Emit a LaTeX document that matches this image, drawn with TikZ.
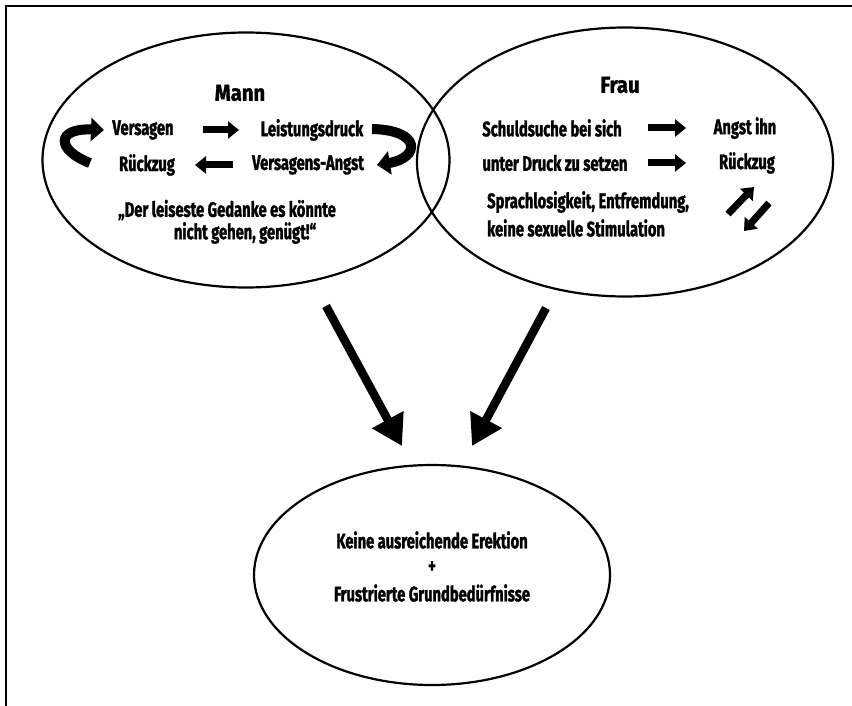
\documentclass[tikz,border=0pt]{standalone}
\usepackage{fontspec}
\setmainfont{Fira Sans}[FakeStretch=0.7,BoldFeatures={FakeBold=1.5}]
\newfontfamily\titlefont{Fira Sans}[FakeStretch=0.88,BoldFeatures={FakeBold=1.5}]
\usetikzlibrary{shapes.geometric,arrows.meta}
\begin{document}
\begin{tikzpicture}[x=1pt,y=-1pt,
  txt/.style={font=\bfseries\fontsize{21}{24}\selectfont, inner sep=0pt, anchor=center},
  ttl/.style={font=\titlefont\bfseries\fontsize{23}{26}\selectfont, inner sep=0pt, anchor=center},
  oval/.style={draw, line width=2.2pt, ellipse, inner sep=0pt},
  smallarr/.style={line width=7pt, -{Triangle[length=11pt,width=17pt]}},
  curvarr/.style={line width=10pt, -{Triangle[length=13pt,width=23pt]}},
  bigarr/.style={line width=8.5pt, -{Triangle[length=30pt,width=34pt]}},
  frame/.style={line width=1.6pt}]
\useasboundingbox (0,0) rectangle (852,706);
% frame
\coordinate (fa) at (6,706);
\coordinate (fb) at (6,6);
\coordinate (fc) at (852,6);
\draw[frame] (fa) -- (fb) -- (fc);
% ellipses
\node[oval, minimum width=407pt, minimum height=255pt] (mann) at (246,160) {};
\node[oval, minimum width=416pt, minimum height=269pt] (frau) at (625,162) {};
\node[oval, minimum width=356pt, minimum height=220pt] (res) at (432,575) {};
% Mann texts
\node[ttl] (tmann) at (240,93) {Mann};
\node[txt] (vers) at (143,130) {Versagen};
\node[txt] (leist) at (312,130) {Leistungsdruck};
\node[txt] (rueck) at (147,165) {Rückzug};
\node[txt] (vangst) at (308,165) {Versagens-Angst};
\node[txt] (q1) at (227,210) {„Der leiseste Gedanke es könnte};
\node[txt] (q2) at (245,233) {nicht gehen, genügt!“};
% Mann arrows
\coordinate (a1s) at (203,130); \coordinate (a1e) at (239,130);
\draw[smallarr] (a1s) -- (a1e);
\coordinate (a2s) at (233,165); \coordinate (a2e) at (195,165);
\draw[smallarr] (a2s) -- (a2e);
\coordinate (c1s) at (90,163); \coordinate (c1e) at (104,130);
\draw[curvarr] (c1s) .. controls (56,150) and (56,128) .. (c1e);
\coordinate (c2s) at (372,129); \coordinate (c2e) at (377,165);
\draw[curvarr] (c2s) .. controls (422,130) and (420,158) .. (c2e);
% Frau texts
\node[ttl] (tfrau) at (620,85) {Frau};
\node[txt] (schuld) at (552,128) {Schuldsuche bei sich};
\node[txt] (angst) at (745,128) {Angst ihn};
\node[txt] (druck) at (555,163) {unter Druck zu setzen};
\node[txt] (frueck) at (747,163) {Rückzug};
\node[txt, anchor=west] (sprach) at (487,202) {Sprachlosigkeit, Entfremdung,};
\node[txt, anchor=west] (keine) at (487,228) {keine sexuelle Stimulation};
% Frau arrows
\coordinate (a3s) at (648,128); \coordinate (a3e) at (686,128);
\draw[smallarr] (a3s) -- (a3e);
\coordinate (a4s) at (648,163); \coordinate (a4e) at (686,163);
\draw[smallarr] (a4s) -- (a4e);
\coordinate (d1s) at (728,214); \coordinate (d1e) at (754,187);
\draw[smallarr] (d1s) -- (d1e);
\coordinate (d2s) at (769,203); \coordinate (d2e) at (744,231);
\draw[smallarr] (d2s) -- (d2e);
% big arrows
\coordinate (b1s) at (326,306); \coordinate (b1e) at (402,446);
\draw[bigarr] (b1s) -- (b1e);
\coordinate (b2s) at (546,308); \coordinate (b2e) at (472,446);
\draw[bigarr] (b2s) -- (b2e);
% result texts
\node[txt] (r1) at (432,540) {Keine ausreichende Erektion};
\node[txt] (r2) at (432,567) {+};
\node[txt] (r3) at (432,593) {Frustrierte Grundbedürfnisse};
\end{tikzpicture}
\end{document}
